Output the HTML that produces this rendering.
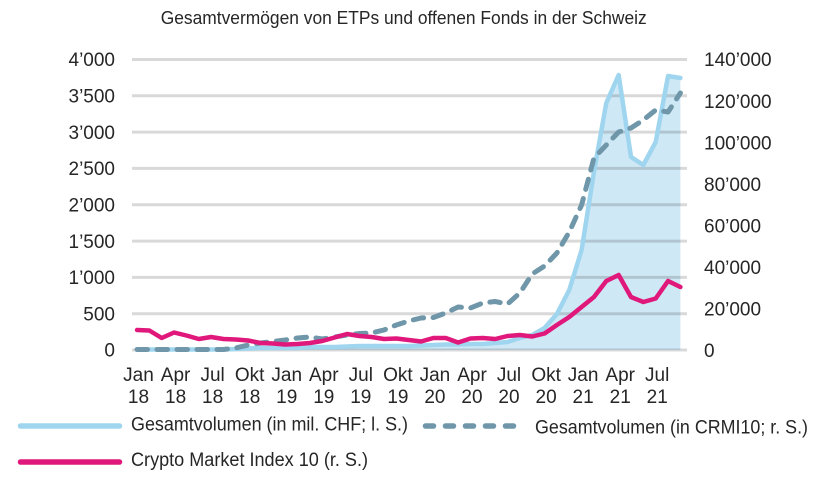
<!DOCTYPE html>
<html><head><meta charset="utf-8"><style>
html,body{margin:0;padding:0;background:#fff;}
svg{display:block;}
text{font-family:"Liberation Sans",sans-serif;fill:#262626;}
</style></head><body>
<svg width="818" height="488" viewBox="0 0 818 488" xmlns="http://www.w3.org/2000/svg">
<text x="403.7" y="24" font-size="18" text-anchor="middle" textLength="486" lengthAdjust="spacingAndGlyphs">Gesamtvermögen von ETPs und offenen Fonds in der Schweiz</text>

<!-- area fill -->
<path fill="#cfe8f5" d="M137,350 L137,349.5 149.35,349.5 161.7,349.5 174.05,349.5 186.4,349.5 198.75,349.5 211.1,349.5 223.45,349.5 235.8,349 248.15,348.5 260.5,348 272.85,348 285.2,348 297.55,348 309.9,347 322.25,347 334.6,347 346.95,346.5 359.3,346 371.65,346 384,346 396.35,346 408.7,346 421.05,345.5 433.4,345 445.75,344.5 458.1,344.5 470.45,344 482.8,344 495.15,343 507.5,342 519.85,338 532.2,335 544.55,328 556.9,314 569.25,290 581.6,250 593.95,172 606.3,103 618.65,75 631,157 643.35,165 655.7,142 668.05,76 680.4,78 L680.4,350 Z"/>

<!-- gridlines -->
<g stroke="rgba(0,0,0,0.15)" stroke-width="3">
<line x1="132" y1="59.5" x2="687" y2="59.5"/>
<line x1="132" y1="95.8" x2="687" y2="95.8"/>
<line x1="132" y1="132.1" x2="687" y2="132.1"/>
<line x1="132" y1="168.4" x2="687" y2="168.4"/>
<line x1="132" y1="204.8" x2="687" y2="204.8"/>
<line x1="132" y1="241.1" x2="687" y2="241.1"/>
<line x1="132" y1="277.4" x2="687" y2="277.4"/>
<line x1="132" y1="313.7" x2="687" y2="313.7"/>
<line x1="132" y1="350" x2="687" y2="350"/>
</g>

<!-- light blue line -->
<polyline fill="none" stroke="#9fd5ef" stroke-width="4.5" stroke-linejoin="round" stroke-linecap="round" points="137,349.5 149.35,349.5 161.7,349.5 174.05,349.5 186.4,349.5 198.75,349.5 211.1,349.5 223.45,349.5 235.8,349 248.15,348.5 260.5,348 272.85,348 285.2,348 297.55,348 309.9,347 322.25,347 334.6,347 346.95,346.5 359.3,346 371.65,346 384,346 396.35,346 408.7,346 421.05,345.5 433.4,345 445.75,344.5 458.1,344.5 470.45,344 482.8,344 495.15,343 507.5,342 519.85,338 532.2,335 544.55,328 556.9,314 569.25,290 581.6,250 593.95,172 606.3,103 618.65,75 631,157 643.35,165 655.7,142 668.05,76 680.4,78"/>

<!-- dashed line -->
<polyline fill="none" stroke="#6f97a9" stroke-width="5" stroke-linejoin="round" stroke-linecap="round" stroke-dasharray="10.5 9.5" points="137,349.5 149.35,349.5 161.7,349.5 174.05,349.5 186.4,349.5 198.75,349.5 211.1,349.5 223.45,349.5 235.8,348 248.15,345 260.5,343 272.85,341.5 285.2,340 297.55,338 309.9,337 322.25,339 334.6,337 346.95,335 359.3,333.5 371.65,333 384,330 396.35,325 408.7,321 421.05,318 433.4,317.5 445.75,313 458.1,307 470.45,308 482.8,303 495.15,301.5 507.5,304 519.85,293 532.2,274 544.55,266 556.9,253 569.25,232 581.6,205 593.95,158 606.3,145 618.65,132 631,128 643.35,120 655.7,110 668.05,112 680.4,93"/>

<!-- magenta line -->
<polyline fill="none" stroke="#e0187c" stroke-width="4.5" stroke-linejoin="round" stroke-linecap="round" points="137,330 149.35,330.5 161.7,338 174.05,332.5 186.4,335.5 198.75,339 211.1,337 223.45,339 235.8,339.5 248.15,340.5 260.5,343 272.85,343.5 285.2,344.5 297.55,344 309.9,343 322.25,341 334.6,337.5 346.95,334 359.3,336 371.65,337 384,339 396.35,338.5 408.7,340 421.05,341.5 433.4,338 445.75,338 458.1,342.5 470.45,338.5 482.8,338 495.15,339 507.5,336 519.85,335 532.2,336.5 544.55,333.5 556.9,325 569.25,317 581.6,307 593.95,297 606.3,281 618.65,275 631,297 643.35,302 655.7,298.5 668.05,281 680.4,287"/>

<!-- left axis labels -->
<g font-size="19" text-anchor="end">
<text x="115" y="66.2">4’000</text>
<text x="115" y="102.5">3’500</text>
<text x="115" y="138.8">3’000</text>
<text x="115" y="175.1">2’500</text>
<text x="115" y="211.5">2’000</text>
<text x="115" y="247.8">1’500</text>
<text x="115" y="284.1">1’000</text>
<text x="115" y="320.4">500</text>
<text x="115" y="356.7">0</text>
</g>
<!-- right axis labels -->
<g font-size="19" text-anchor="start">
<text x="704" y="66.2">140’000</text>
<text x="704" y="107.8">120’000</text>
<text x="704" y="149.3">100’000</text>
<text x="704" y="190.9">80’000</text>
<text x="704" y="232.5">60’000</text>
<text x="704" y="274.1">40’000</text>
<text x="704" y="315.6">20’000</text>
<text x="704" y="357.2">0</text>
</g>

<!-- x axis labels -->
<g font-size="19" text-anchor="middle">
<text x="138.5" y="381">Jan</text><text x="138.5" y="403">18</text>
<text x="175.6" y="381">Apr</text><text x="175.6" y="403">18</text>
<text x="212.6" y="381">Jul</text><text x="212.6" y="403">18</text>
<text x="249.7" y="381">Okt</text><text x="249.7" y="403">18</text>
<text x="286.7" y="381">Jan</text><text x="286.7" y="403">19</text>
<text x="323.8" y="381">Apr</text><text x="323.8" y="403">19</text>
<text x="360.8" y="381">Jul</text><text x="360.8" y="403">19</text>
<text x="397.9" y="381">Okt</text><text x="397.9" y="403">19</text>
<text x="434.9" y="381">Jan</text><text x="434.9" y="403">20</text>
<text x="472" y="381">Apr</text><text x="472" y="403">20</text>
<text x="509" y="381">Jul</text><text x="509" y="403">20</text>
<text x="546.1" y="381">Okt</text><text x="546.1" y="403">20</text>
<text x="583.1" y="381">Jan</text><text x="583.1" y="403">21</text>
<text x="620.2" y="381">Apr</text><text x="620.2" y="403">21</text>
<text x="657.2" y="381">Jul</text><text x="657.2" y="403">21</text>
</g>

<!-- legend -->
<line x1="20.5" y1="426" x2="119.5" y2="426" stroke="#9fd5ef" stroke-width="5.5" stroke-linecap="round"/>
<text x="131" y="430.7" font-size="19" textLength="277" lengthAdjust="spacingAndGlyphs">Gesamtvolumen (in mil. CHF; l. S.)</text>
<line x1="425.5" y1="426" x2="524" y2="426" stroke="#6f97a9" stroke-width="5.5" stroke-linecap="round" stroke-dasharray="8 12"/>
<text x="535" y="433.3" font-size="19" textLength="273" lengthAdjust="spacingAndGlyphs">Gesamtvolumen (in CRMI10; r. S.)</text>
<line x1="20.5" y1="462" x2="119.5" y2="462" stroke="#e0187c" stroke-width="5.5" stroke-linecap="round"/>
<text x="131" y="466" font-size="19" textLength="237" lengthAdjust="spacingAndGlyphs">Crypto Market Index 10 (r. S.)</text>
</svg>
</body></html>
